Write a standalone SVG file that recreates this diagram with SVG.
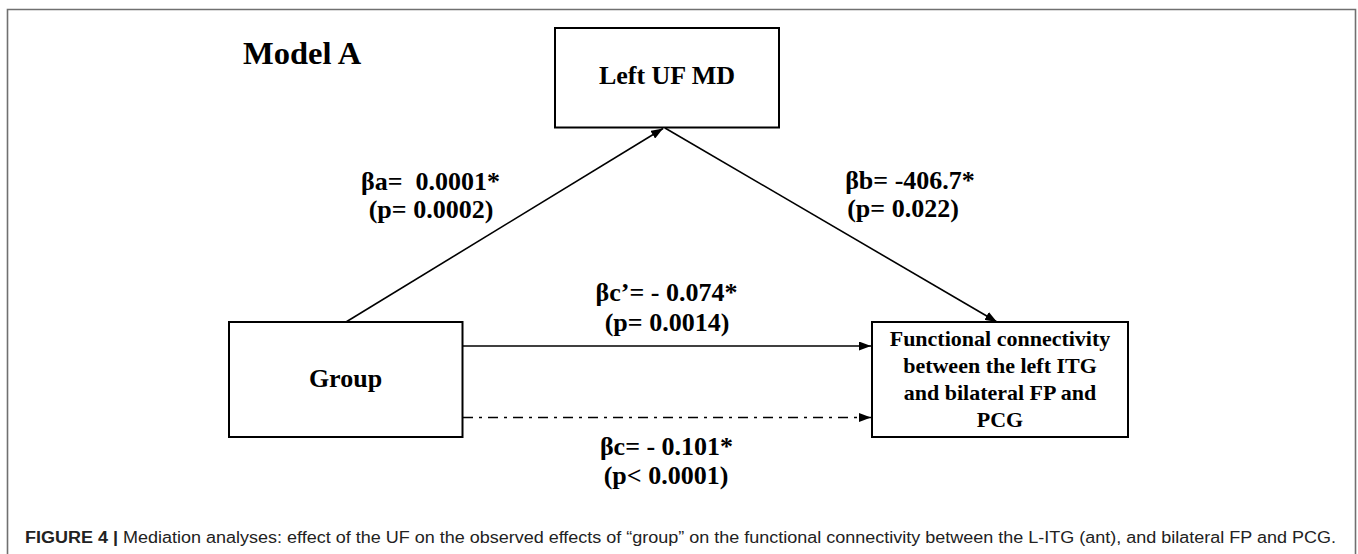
<svg xmlns="http://www.w3.org/2000/svg" width="1358" height="554" viewBox="0 0 1358 554">
<style>
.bg{fill:#ffffff}
.frame{fill:none;stroke:#707070;stroke-width:1.6}
.box{fill:#ffffff;stroke:#000000;stroke-width:2}
.ln{fill:none;stroke:#000000;stroke-width:1.6}
.dash{stroke-dasharray:10 6 3 6}
.t{font-family:"Liberation Serif","Times New Roman",serif;font-weight:bold;fill:#000000}
.lbl{font-size:26px;text-anchor:middle}
.fc{font-size:22px;text-anchor:middle}
.cap{font-family:"Liberation Sans",Arial,sans-serif;font-size:16px;fill:#222222}
</style>
<defs>
<marker id="ah" viewBox="0 0 12 9" refX="12" refY="4.5" markerWidth="12" markerHeight="9" markerUnits="userSpaceOnUse" orient="auto">
<path d="M0,0 L12,4.5 L0,9 z" fill="#000000"/>
</marker>
</defs>
<rect class="bg" x="0" y="0" width="1358" height="554"/>
<path class="frame" d="M7.5,554 L7.5,9.5 L1355.5,9.5 L1355.5,554"/>
<text class="t" x="243" y="64" style="font-size:32.5px">Model A</text>
<g id="connectors">
<line class="ln" x1="346" y1="322" x2="663" y2="128.5" marker-end="url(#ah)"/>
<line class="ln" x1="665" y1="128" x2="997" y2="322" marker-end="url(#ah)"/>
<line class="ln" x1="463" y1="346" x2="871" y2="346" marker-end="url(#ah)"/>
<line class="ln dash" x1="463" y1="417.5" x2="871" y2="417.5" marker-end="url(#ah)"/>
</g>
<g id="node-leftuf">
<rect class="box" x="555" y="28" width="224" height="99.5"/>
<text class="t lbl" x="667" y="84">Left UF MD</text>
</g>
<g id="node-group">
<rect class="box" x="229" y="322" width="233.5" height="115"/>
<text class="t lbl" x="345.5" y="387">Group</text>
</g>
<g id="node-fc">
<rect class="box" x="872" y="322" width="256" height="115"/>
<text class="t fc" x="1000" y="346">Functional connectivity</text>
<text class="t fc" x="1000" y="372.5">between the left ITG</text>
<text class="t fc" x="1000" y="399.5">and bilateral FP and</text>
<text class="t fc" x="1000" y="426.5">PCG</text>
</g>
<g id="labels">
<text class="t lbl" x="430.5" y="190" xml:space="preserve">βa=  0.0001*</text>
<text class="t lbl" x="431" y="218">(p= 0.0002)</text>
<text class="t lbl" x="910" y="189">βb= -406.7*</text>
<text class="t lbl" x="903" y="217">(p= 0.022)</text>
<text class="t lbl" x="666.5" y="301">βc’= - 0.074*</text>
<text class="t lbl" x="667" y="331">(p= 0.0014)</text>
<text class="t lbl" x="666.5" y="455">βc= - 0.101*</text>
<text class="t lbl" x="666" y="484">(p&lt; 0.0001)</text>
</g>
<text class="cap" x="25" y="543" textLength="1311" lengthAdjust="spacingAndGlyphs"><tspan font-weight="bold">FIGURE 4 |</tspan> Mediation analyses: effect of the UF on the observed effects of “group” on the functional connectivity between the L-ITG (ant), and bilateral FP and PCG.</text>
</svg>
